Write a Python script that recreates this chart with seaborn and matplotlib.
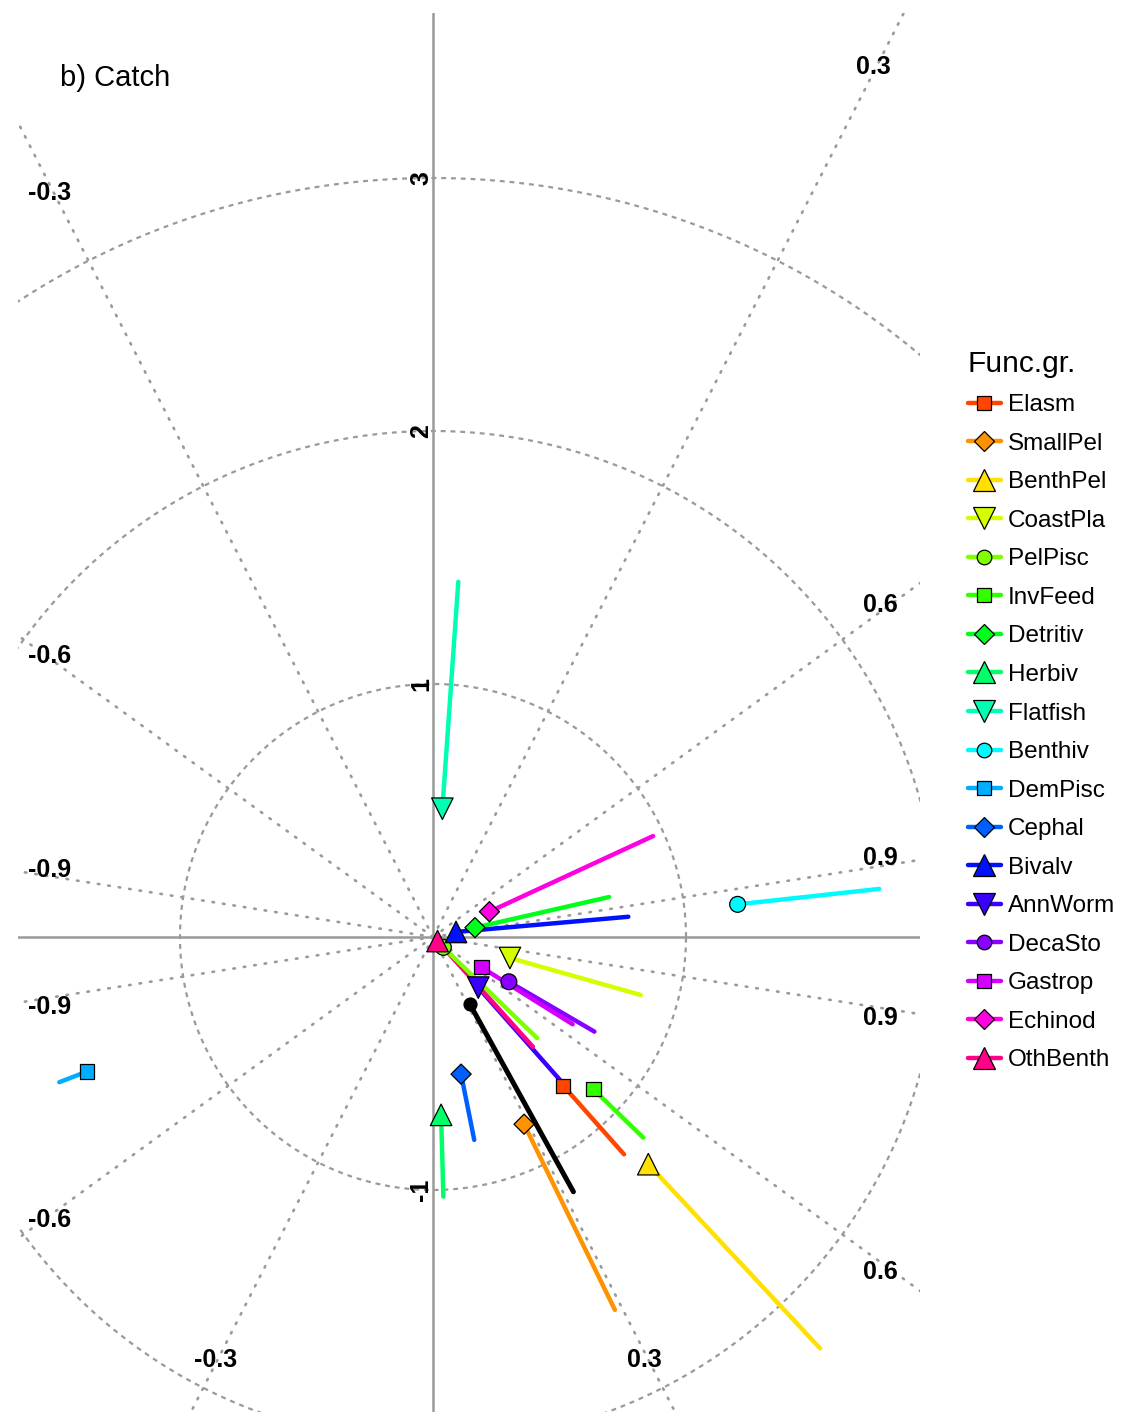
import numpy as np
import pandas as pd
import matplotlib
matplotlib.use("Agg")
import matplotlib.pyplot as plt
import seaborn as sns
from matplotlib.lines import Line2D

# Functional groups, colours and marker shapes
groups = ["Elasm", "SmallPel", "BenthPel", "CoastPla", "PelPisc", "InvFeed",
          "Detritiv", "Herbiv", "Flatfish", "Benthiv", "DemPisc", "Cephal",
          "Bivalv", "AnnWorm", "DecaSto", "Gastrop", "Echinod", "OthBenth"]
colors = ["#FF4500", "#FF9200", "#FFE000", "#D4FF00", "#80FF00", "#34FF00",
          "#00FF1A", "#00FF68", "#00FFB3", "#00FBFF", "#00AEFF", "#0060FF",
          "#0011FF", "#3A00FF", "#8800FF", "#D400FF", "#FF00DE", "#FF0088"]
shapes = ["s", "D", "^", "v", "o", "s", "D", "^", "v", "o", "s", "D", "^", "v",
          "o", "s", "D", "^"]

# Marker position (start) and end of each group's segment
x_start = [0.515, 0.360, 0.851, 0.304, 0.041, 0.634, 0.166, 0.032, 0.037,
           1.204, -1.369, 0.111, 0.091, 0.179, 0.300, 0.192, 0.223, 0.018]
y_start = [-0.588, -0.740, -0.898, -0.083, -0.041, -0.602, 0.037, -0.703,
           0.507, 0.129, -0.532, -0.542, 0.020, -0.200, -0.177, -0.120, 0.100,
           -0.016]
x_end = [0.755, 0.719, 1.530, 0.821, 0.412, 0.831, 0.696, 0.041, 0.100,
         1.764, -1.477, 0.163, 0.772, 0.502, 0.638, 0.552, 0.870, 0.395]
y_end = [-0.859, -1.474, -1.626, -0.229, -0.400, -0.793, 0.158, -1.026,
         1.404, 0.190, -0.574, -0.802, 0.080, -0.565, -0.374, -0.345, 0.399,
         -0.434]

# All groups combined
all_start = (0.146, -0.266)
all_end = (0.555, -1.007)

sd_circles = [1, 2, 3]
cor_levels = [0.3, 0.6, 0.9]
axis_ticks = [-1, 1, 2, 3]

# where each correlation label sits along its ray (upper/lower, right/left)
cor_labels = ["0.3", "0.6", "0.9", "0.9", "0.6", "0.3",
              "-0.3", "-0.6", "-0.9", "-0.9", "-0.6", "-0.3"]
cor_label_x = [1.739, 1.767, 1.767, 1.767, 1.767, 0.834,
               -1.514, -1.514, -1.514, -1.514, -1.514, -0.858]
cor_label_y = [3.439, 1.312, 0.312, -0.320, -1.324, -1.672,
               2.941, 1.111, 0.265, -0.277, -1.119, -1.672]

palette = dict(zip(groups, colors))
marker_map = dict(zip(groups, shapes))
area = {"s": 105, "D": 105, "^": 240, "v": 240, "o": 130}
size_map = {g: area[m] for g, m in zip(groups, shapes)}

pts = pd.DataFrame({"group": groups, "x": x_start, "y": y_start})
seg = pd.concat([
    pd.DataFrame({"group": groups, "x": x_start, "y": y_start, "k": 0}),
    pd.DataFrame({"group": groups, "x": x_end, "y": y_end, "k": 1}),
]).sort_values(["group", "k"]).reset_index(drop=True)

sns.set_theme(style="white")
plt.rcParams["font.family"] = ["Liberation Sans", "DejaVu Sans"]
plt.rcParams["text.color"] = "black"

W, H = 1129, 1416
fig = plt.figure(figsize=(W / 100, H / 100), dpi=100)
ax = fig.add_axes([18 / W, 4 / H, 902 / W, 1399 / H])
x0, x1 = -1.6403, 1.9249
y0, y1 = -1.8775, 3.6522
ax.set_xlim(x0, x1)
ax.set_ylim(y0, y1)
ax.set_axis_off()

grid_col = "#9a9a9a"

# standard-deviation circles
th = np.linspace(0, 2 * np.pi, 720)
for r in sd_circles:
    ax.plot(r * np.cos(th), r * np.sin(th), color=grid_col, lw=1.6,
            ls=(0, (2.2, 2.2)), zorder=1)

# correlation rays
for c in cor_levels:
    a = np.deg2rad(90 * (1 - c))
    for sx, sy in [(1, 1), (1, -1), (-1, 1), (-1, -1)]:
        dx, dy = sx * np.cos(a), sy * np.sin(a)
        ax.plot([0, 6 * dx], [0, 6 * dy], color=grid_col, lw=1.9,
                ls=(0, (0.6, 3.4)), dash_capstyle="round", zorder=1)

for lab, lx, ly in zip(cor_labels, cor_label_x, cor_label_y):
    ax.text(lx, ly, lab, ha="center", va="center", fontsize=18,
            fontweight="bold", color="black", zorder=3)

ax.axhline(0, color=grid_col, lw=1.8, zorder=1.5)
ax.axvline(0, color=grid_col, lw=1.8, zorder=1.5)
for t in axis_ticks:
    ax.text(0.0, t, f"{t}", rotation=90, ha="right", va="center",
            fontsize=18, fontweight="bold", zorder=3)

# segments
sns.lineplot(data=seg, x="x", y="y", hue="group", palette=palette,
             units="group", estimator=None, sort=False, lw=3.2,
             legend=False, ax=ax, zorder=4)
ax.plot([all_start[0], all_end[0]], [all_start[1], all_end[1]],
        color="black", lw=3.6, zorder=4)

# group markers
sns.scatterplot(data=pts, x="x", y="y", hue="group", style="group",
                size="group", palette=palette, markers=marker_map,
                sizes=size_map, edgecolor="black", linewidth=0.9,
                legend=False, ax=ax, zorder=6)
ax.scatter([all_start[0]], [all_start[1]], s=85, color="black", zorder=6)
ax.set_xlim(x0, x1)
ax.set_ylim(y0, y1)

fig.text(60 / W, 1 - 78 / H, "b) Catch", ha="left", va="center",
         fontsize=21, color="black")

handles = [Line2D([0], [0], color=c, lw=3.2, marker=m,
                  markersize=(15.5 if m in "^v" else 10.5),
                  markerfacecolor=c, markeredgecolor="black",
                  markeredgewidth=0.9)
           for c, m in zip(colors, shapes)]
leg = fig.legend(handles, groups, loc="upper left",
                 bbox_to_anchor=(964 / W, 1 - 346 / H), frameon=False,
                 title="Func.gr.", title_fontsize=21.5, fontsize=17.5,
                 handlelength=1.36, handletextpad=0.3, labelspacing=0.68,
                 alignment="left", borderaxespad=0, borderpad=0.15)
for txt in leg.get_texts():
    txt.set_color("black")
leg.get_title().set_color("black")

fig.savefig("out.png", dpi=100)
